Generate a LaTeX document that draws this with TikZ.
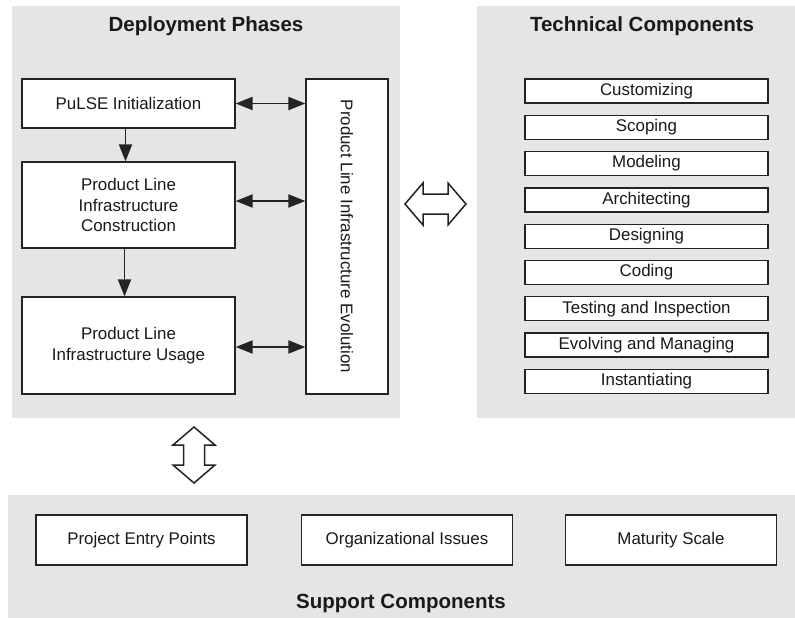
\documentclass[tikz,border=0pt]{standalone}
\usepackage{fontspec}
\setmainfont{Liberation Sans}
\usetikzlibrary{arrows.meta}

\definecolor{panelgray}{RGB}{229,229,229}
\definecolor{boxline}{RGB}{35,35,35}
\definecolor{inktext}{RGB}{25,25,25}

\begin{document}
\begin{tikzpicture}[x=1pt, y=-1pt,
    every node/.style={font=\fontsize{16.9}{20.5}\selectfont, text=inktext},
    panel/.style={fill=panelgray, inner sep=0pt},
    paneltitle/.style={font=\fontsize{20.5}{24}\selectfont\bfseries},
    phasebox/.style={draw=boxline, line width=1.3pt, fill=white, align=center,
        inner sep=0pt, minimum width=213},
    techbox/.style={draw=boxline, line width=1.3pt, fill=white, inner sep=0pt,
        minimum width=243, minimum height=24},
    supportbox/.style={draw=boxline, line width=1.3pt, fill=white, inner sep=0pt,
        minimum width=211, minimum height=50},
    flow/.style={line width=1.9pt, draw=boxline, -{Triangle[length=17pt,width=13pt]}},
    twoway/.style={line width=1.9pt, draw=boxline,
        {Triangle[length=17pt,width=13pt]}-{Triangle[length=17pt,width=13pt]}},
    blockarrow/.style={draw=boxline, line width=1.5pt, fill=white, line join=miter}
]
\useasboundingbox (0,0) rectangle (795,618);

% ---- grey panels ----
\fill[panelgray] (12,6) rectangle (400,418);
\fill[panelgray] (477,6) rectangle (795,418);
\fill[panelgray] (8,495) rectangle (795,618);

\node[paneltitle] (deploytitle) at (206,26) {Deployment Phases};
\node[paneltitle] (techtitle) at (642,26) {Technical Components};
\node[paneltitle] (supporttitle) at (401,603) {Support Components};

% ---- deployment phases ----
\node[phasebox, minimum height=49] (init) at (128.5,103.5) {PuLSE Initialization};
\node[phasebox, minimum height=86] (cons) at (128.5,205)
    {Product Line\\Infrastructure\\Construction};
\node[phasebox, minimum height=97] (usage) at (128.5,345.5)
    {Product Line\\Infrastructure Usage};
\node[draw=boxline, line width=1.3pt, fill=white, inner sep=0pt,
    minimum width=82, minimum height=315] (evol) at (347,236.5) {};
\node[rotate=-90] (evollabel) at (evol.center) {Product Line Infrastructure Evolution};

\draw[flow] ([xshift=-3pt]init.south) -- ([xshift=-3pt]cons.north);
\draw[flow] ([xshift=-4pt]cons.south) -- ([xshift=-4pt]usage.north);
\draw[twoway] (init.east) -- (init.east -| evol.west);
\draw[twoway] ([yshift=4pt]cons.east) -- ([yshift=4pt]cons.east -| evol.west);
\draw[twoway] ([yshift=-1.5pt]usage.east) -- ([yshift=-1.5pt]usage.east -| evol.west);

% ---- technical components ----
\foreach \name [count=\i from 0] in {Customizing, Scoping, Modeling, Architecting,
    Designing, Coding, Testing and Inspection, Evolving and Managing, Instantiating}
    \node[techbox] (tech\i) at (646.5, 91+36.3*\i) {\name};

% ---- support components ----
\node[supportbox] (entry) at (141.5,540) {Project Entry Points};
\node[supportbox] (orga) at (407,540) {Organizational Issues};
\node[supportbox] (maturity) at (671,540) {Maturity Scale};

% ---- block arrows between the panels ----
\draw[blockarrow] (405,204) -- (423,183) -- (423,194) -- (448,194) -- (448,183)
    -- (466,204) -- (448,225) -- (448,214) -- (423,214) -- (423,225) -- cycle;
\draw[blockarrow] (194,427) -- (215,445) -- (204.5,445) -- (204.5,465) -- (215,465)
    -- (194,483) -- (173,465) -- (183.5,465) -- (183.5,445) -- (173,445) -- cycle;

\end{tikzpicture}
\end{document}
